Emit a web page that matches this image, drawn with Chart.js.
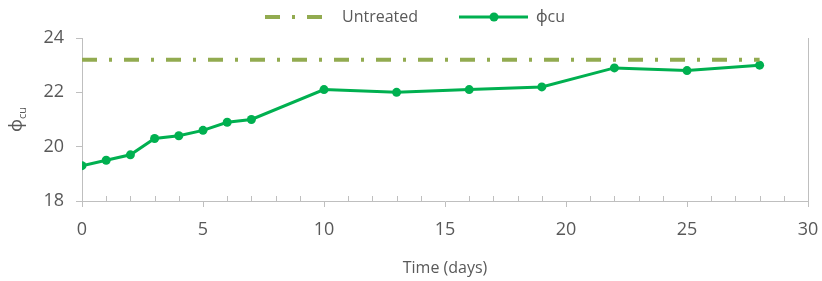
<!DOCTYPE html>
<html>
<head>
<meta charset="utf-8">
<script src="https://cdn.jsdelivr.net/npm/chart.js@4"></script>
<style>
  html, body { margin: 0; padding: 0; background: #fff; }
  #wrap { width: 822px; height: 281px; position: relative; }
</style>
</head>
<body>
<div id="wrap"><canvas id="chart"></canvas></div>
<script>
// data
const days = [0, 1, 2, 3, 4, 5, 6, 7, 10, 13, 16, 19, 22, 25, 28];
const phiCu = [19.3, 19.5, 19.7, 20.3, 20.4, 20.6, 20.9, 21.0, 22.1, 22.0, 22.1, 22.2, 22.9, 22.8, 23.0];
const untreatedDays = [0, 28];
const untreatedValue = [23.2, 23.2];
const xTicks = [0, 5, 10, 15, 20, 25, 30];
const yTicks = [18, 20, 22, 24];

const FONT = "'Open Sans', 'Noto Sans', sans-serif";
const TEXT = '#595959';
const AXIS = '#bfbfbf';
const GREEN = '#00b050';
const OLIVE = '#92ab50';
const DASHDOT = [15, 12, 3, 12];

// minor x ticks, right border, y title with subscript, legend
const extras = {
  id: 'extras',
  afterDraw(chart) {
    const ctx = chart.ctx;
    const area = chart.chartArea;
    const xs = chart.scales.x;
    ctx.save();

    ctx.strokeStyle = AXIS;
    ctx.lineWidth = 1;
    ctx.beginPath();
    for (let d = xs.min; d <= xs.max; d++) {
      if (d % 5 === 0) continue;
      const px = Math.round(xs.getPixelForValue(d)) + 0.5;
      ctx.moveTo(px, area.bottom);
      ctx.lineTo(px, area.bottom - 5);
    }
    ctx.moveTo(Math.round(area.right) + 0.5, area.top);
    ctx.lineTo(Math.round(area.right) + 0.5, area.bottom);
    ctx.stroke();

    // y axis title: phi with subscript cu
    ctx.fillStyle = TEXT;
    ctx.translate(22, (area.top + area.bottom) / 2);
    ctx.rotate(-Math.PI / 2);
    ctx.textBaseline = 'alphabetic';
    ctx.font = '18px ' + FONT;
    const phiW = ctx.measureText('ϕ').width;
    ctx.font = '11px ' + FONT;
    const subW = ctx.measureText('cu').width;
    let sx = -(phiW + subW) / 2;
    ctx.font = '18px ' + FONT;
    ctx.fillText('ϕ', sx, 0);
    ctx.font = '11px ' + FONT;
    ctx.fillText('cu', sx + phiW, 4);
    ctx.restore();

    // legend
    ctx.save();
    ctx.font = '16px ' + FONT;
    ctx.fillStyle = TEXT;
    ctx.textBaseline = 'middle';
    const ly = 17;
    ctx.strokeStyle = OLIVE;
    ctx.lineWidth = 4;
    ctx.setLineDash(DASHDOT);
    ctx.beginPath();
    ctx.moveTo(265, ly);
    ctx.lineTo(323, ly);
    ctx.stroke();
    ctx.setLineDash([]);
    ctx.fillText('Untreated', 342, ly);

    ctx.strokeStyle = GREEN;
    ctx.lineWidth = 3;
    ctx.beginPath();
    ctx.moveTo(459, ly);
    ctx.lineTo(528, ly);
    ctx.stroke();
    ctx.fillStyle = GREEN;
    ctx.beginPath();
    ctx.arc(494, ly, 4.5, 0, Math.PI * 2);
    ctx.fill();
    ctx.fillStyle = TEXT;
    ctx.fillText('ϕcu', 536, ly);
    ctx.restore();
  }
};

new Chart(document.getElementById('chart'), {
  type: 'line',
  data: {
    datasets: [
      {
        label: 'Untreated',
        data: untreatedDays.map((d, i) => ({ x: d, y: untreatedValue[i] })),
        borderColor: OLIVE,
        borderWidth: 4,
        borderDash: DASHDOT,
        pointRadius: 0,
        fill: false
      },
      {
        label: 'ϕcu',
        data: days.map((d, i) => ({ x: d, y: phiCu[i] })),
        borderColor: GREEN,
        backgroundColor: GREEN,
        borderWidth: 3,
        pointRadius: 4.5,
        pointBackgroundColor: GREEN,
        pointBorderWidth: 0,
        tension: 0,
        fill: false
      }
    ]
  },
  options: {
    responsive: true,
    maintainAspectRatio: false,
    animation: false,
    layout: {
      padding: { left: 0, right: 14, top: 38, bottom: 0 }
    },
    plugins: {
      legend: { display: false },
      tooltip: { enabled: false }
    },
    scales: {
      x: {
        type: 'linear',
        min: xTicks[0],
        max: xTicks[xTicks.length - 1],
        afterBuildTicks: (scale) => {
          scale.ticks = xTicks.map(v => ({ value: v }));
        },
        afterFit: (scale) => {
          scale.height = 80;
          scale.paddingLeft = 0;
          scale.paddingRight = 0;
        },
        ticks: {
          color: TEXT,
          font: { family: FONT, size: 18 },
          padding: 12,
          maxRotation: 0
        },
        grid: {
          drawOnChartArea: false,
          drawTicks: true,
          tickLength: 6,
          color: AXIS
        },
        border: { display: true, color: AXIS, width: 1 },
        title: {
          display: true,
          text: 'Time (days)',
          color: TEXT,
          font: { family: FONT, size: 16 },
          padding: { top: 8, bottom: 3 }
        }
      },
      y: {
        type: 'linear',
        min: yTicks[0],
        max: yTicks[yTicks.length - 1],
        afterBuildTicks: (scale) => {
          scale.ticks = yTicks.map(v => ({ value: v }));
        },
        afterFit: (scale) => {
          scale.width = 82;
          scale.paddingTop = 0;
          scale.paddingBottom = 0;
        },
        ticks: {
          color: TEXT,
          font: { family: FONT, size: 18 },
          padding: 12
        },
        grid: {
          drawOnChartArea: false,
          drawTicks: true,
          tickLength: 6,
          color: AXIS
        },
        border: { display: true, color: AXIS, width: 1 }
      }
    }
  },
  plugins: [extras]
});
</script>
</body>
</html>
